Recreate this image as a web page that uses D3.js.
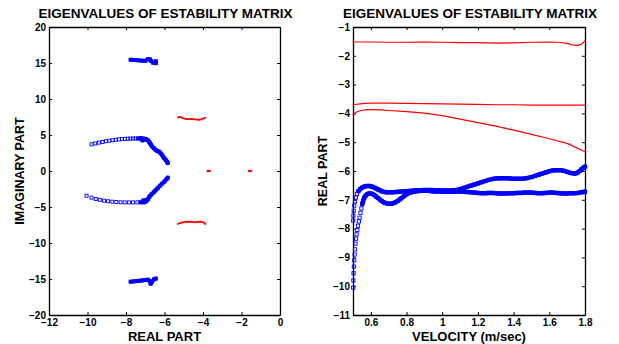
<!DOCTYPE html>
<html><head><meta charset="utf-8">
<script src="https://cdn.jsdelivr.net/npm/d3@7"></script>
<style>body{margin:0;background:#fff}svg{display:block}</style>
</head><body>
<svg id="c" width="619" height="344"></svg>
<script>
const chartTitle = "EIGENVALUES OF ESTABILITY MATRIX";
const leftXLabel = "REAL PART", leftYLabel = "IMAGINARY PART";
const rightXLabel = "VELOCITY (m/sec)", rightYLabel = "REAL PART";
const leftXTicks = [-12,-10,-8,-6,-4,-2,0];
const leftYTicks = [-20,-15,-10,-5,0,5,10,15,20];
const rightXTicks = [0.6,0.8,1,1.2,1.4,1.6,1.8];
const rightYTicks = [-11,-10,-9,-8,-7,-6,-5,-4,-3,-2,-1];

// ---- left plot: eigenvalues in the complex plane [real, imag] ----
const arcUpperSparse = [[-9.79,3.71],[-9.6,3.83],[-9.41,3.94],[-9.22,4.04],[-9.04,4.13],[-8.87,4.21],[-8.7,4.28],[-8.53,4.34],[-8.37,4.39],[-8.21,4.43],[-8.06,4.46],[-7.91,4.48],[-7.77,4.5],[-7.63,4.51],[-7.5,4.52],[-7.38,4.52]];
const arcUpperDense = [[-7.3,4.52],[-7.2,4.55],[-7.1,4.5],[-7.0,4.45],[-7.15,4.25],[-6.95,4.4],[-6.85,4.25],[-6.8,4.05],[-6.75,3.85],[-6.7,3.65],[-6.64,3.4],[-6.56,3.18],[-6.47,2.95],[-6.38,2.8],[-6.3,2.7],[-6.22,2.55],[-6.15,2.3],[-6.08,2.0],[-6.0,1.75],[-5.93,1.5],[-5.87,1.28],[-5.83,1.1]];
const arcLowerSparse = [[-10.05,-3.43],[-9.79,-3.7],[-9.57,-3.89],[-9.36,-4.0],[-9.14,-4.12],[-8.93,-4.2],[-8.71,-4.26],[-8.5,-4.3],[-8.28,-4.35],[-8.07,-4.36],[-7.85,-4.36],[-7.64,-4.36],[-7.41,-4.35]];
const arcLowerDense = [[-7.24,-4.35],[-7.05,-4.35],[-6.95,-4.2],[-7.1,-4.1],[-6.9,-4.0],[-6.85,-3.9],[-6.78,-3.55],[-6.68,-3.25],[-6.56,-2.95],[-6.47,-2.7],[-6.36,-2.4],[-6.24,-2.05],[-6.12,-1.75],[-6.0,-1.45],[-5.9,-1.15],[-5.83,-0.93]];
const highUpper = [[-7.76,15.45],[-7.6,15.42],[-7.4,15.38],[-7.2,15.33],[-7.0,15.3],[-6.85,15.55],[-6.75,15.5],[-6.7,15.3],[-6.6,15.05],[-6.45,14.98],[-6.45,15.25]];
const highLower = [[-7.76,-15.37],[-7.6,-15.33],[-7.4,-15.28],[-7.2,-15.22],[-7.0,-15.15],[-6.85,-15.1],[-6.75,-15.35],[-6.72,-15.65],[-6.65,-15.4],[-6.55,-15.05],[-6.45,-14.95]];
const redUpper = [[-5.31,7.46],[-5.17,7.5],[-5.05,7.35],[-4.91,7.22],[-4.75,7.2],[-4.57,7.22],[-4.4,7.18],[-4.22,7.1],[-4.1,7.18],[-3.97,7.3],[-3.88,7.4]];
const redLower = [[-5.31,-7.36],[-5.2,-7.25],[-5.08,-7.13],[-4.9,-7.06],[-4.74,-7.04],[-4.57,-7.08],[-4.4,-7.13],[-4.26,-7.06],[-4.14,-7.02],[-3.97,-7.13],[-3.88,-7.36]];
const redReal1 = [[-3.81,0],[-3.6,0]];
const redReal2 = [[-1.66,0],[-1.46,0]];

// ---- right plot: real part vs velocity [v, real] ----
const redTop = [[0.5,-1.52],[0.6,-1.52],[0.7,-1.53],[0.8,-1.53],[0.9,-1.52],[1.0,-1.53],[1.1,-1.54],[1.2,-1.54],[1.3,-1.56],[1.4,-1.55],[1.5,-1.53],[1.6,-1.52],[1.65,-1.53],[1.7,-1.57],[1.73,-1.62],[1.76,-1.64],[1.78,-1.6],[1.8,-1.48]];
const redMid = [[0.5,-3.7],[0.55,-3.66],[0.6,-3.64],[0.7,-3.64],[0.8,-3.65],[0.9,-3.66],[1.0,-3.67],[1.1,-3.68],[1.2,-3.69],[1.3,-3.7],[1.4,-3.7],[1.5,-3.71],[1.6,-3.71],[1.7,-3.71],[1.8,-3.71]];
const redLow = [[0.5,-4.05],[0.52,-3.95],[0.55,-3.89],[0.58,-3.87],[0.6,-3.87],[0.65,-3.88],[0.7,-3.9],[0.8,-3.94],[0.9,-3.99],[1.0,-4.08],[1.1,-4.2],[1.2,-4.32],[1.3,-4.44],[1.4,-4.58],[1.5,-4.73],[1.6,-4.88],[1.7,-5.04],[1.8,-5.33]];
const blueASparse = [[0.501,-7.72],[0.502,-7.55],[0.504,-7.38],[0.507,-7.2],[0.511,-7.05],[0.516,-6.92],[0.522,-6.8]];
const blueA = [[0.53,-6.7],[0.54,-6.63],[0.55,-6.58],[0.56,-6.55],[0.57,-6.53],[0.58,-6.52],[0.59,-6.52],[0.6,-6.53],[0.61,-6.55],[0.62,-6.58],[0.63,-6.61],[0.64,-6.64],[0.65,-6.67],[0.66,-6.7],[0.67,-6.72],[0.68,-6.73],[0.69,-6.74],[0.7,-6.74],[0.72,-6.74],[0.74,-6.73],[0.76,-6.72],[0.78,-6.71],[0.8,-6.7],[0.82,-6.69],[0.84,-6.68],[0.86,-6.67],[0.88,-6.67],[0.9,-6.66],[0.92,-6.66],[0.94,-6.66],[0.96,-6.67],[0.98,-6.67],[1.0,-6.68],[1.02,-6.68],[1.04,-6.68],[1.06,-6.67],[1.08,-6.66],[1.1,-6.63],[1.12,-6.59],[1.14,-6.55],[1.16,-6.51],[1.18,-6.47],[1.2,-6.43],[1.22,-6.39],[1.24,-6.35],[1.26,-6.31],[1.28,-6.28],[1.3,-6.26],[1.32,-6.25],[1.34,-6.25],[1.36,-6.25],[1.38,-6.26],[1.4,-6.27],[1.42,-6.27],[1.44,-6.27],[1.46,-6.26],[1.48,-6.24],[1.5,-6.21],[1.52,-6.17],[1.54,-6.13],[1.56,-6.09],[1.58,-6.05],[1.6,-6.01],[1.62,-5.98],[1.64,-5.97],[1.66,-5.97],[1.68,-5.99],[1.7,-6.03],[1.72,-6.07],[1.74,-6.09],[1.75,-6.08],[1.76,-6.05],[1.77,-6.0],[1.78,-5.94],[1.79,-5.89],[1.8,-5.85]];
const blueBSparse = [[0.501,-10.05],[0.502,-9.8],[0.503,-9.55],[0.505,-9.32],[0.507,-9.1],[0.509,-8.9],[0.511,-8.72],[0.514,-8.52],[0.517,-8.35],[0.52,-8.2],[0.524,-8.05],[0.528,-7.9],[0.533,-7.75],[0.537,-7.62],[0.542,-7.45],[0.547,-7.3]];
const blueB = [[0.552,-7.15],[0.557,-7.03],[0.563,-6.93],[0.57,-6.86],[0.58,-6.8],[0.59,-6.78],[0.6,-6.78],[0.61,-6.8],[0.62,-6.84],[0.63,-6.89],[0.64,-6.94],[0.65,-6.99],[0.66,-7.04],[0.67,-7.08],[0.68,-7.11],[0.69,-7.13],[0.7,-7.14],[0.71,-7.14],[0.72,-7.13],[0.73,-7.11],[0.74,-7.08],[0.75,-7.04],[0.76,-7.0],[0.77,-6.95],[0.78,-6.9],[0.79,-6.85],[0.8,-6.81],[0.82,-6.75],[0.84,-6.72],[0.86,-6.7],[0.88,-6.69],[0.9,-6.69],[0.92,-6.69],[0.94,-6.7],[0.96,-6.71],[0.98,-6.71],[1.0,-6.72],[1.02,-6.72],[1.04,-6.72],[1.06,-6.72],[1.08,-6.71],[1.1,-6.71],[1.12,-6.72],[1.14,-6.73],[1.16,-6.74],[1.18,-6.75],[1.2,-6.76],[1.22,-6.77],[1.24,-6.77],[1.26,-6.76],[1.28,-6.76],[1.3,-6.77],[1.32,-6.78],[1.34,-6.78],[1.36,-6.78],[1.38,-6.77],[1.4,-6.77],[1.42,-6.76],[1.44,-6.76],[1.46,-6.75],[1.48,-6.75],[1.5,-6.75],[1.52,-6.76],[1.54,-6.77],[1.56,-6.77],[1.58,-6.76],[1.6,-6.75],[1.62,-6.75],[1.64,-6.76],[1.66,-6.77],[1.68,-6.78],[1.7,-6.78],[1.72,-6.77],[1.74,-6.77],[1.76,-6.76],[1.78,-6.74],[1.8,-6.72]];

const BLUE = "#0000ff", RED = "#ff0000";
const FONT = "'Liberation Sans', Arial, Helvetica, sans-serif";
const svg = d3.select("#c");
const plotTop = 27, plotBottom = 315;

function frame(x0, x1, xDom, yDom, xt, yt, fmtX, fmtY) {
  const xs = d3.scaleLinear().domain(xDom).range([x0, x1]);
  const ys = d3.scaleLinear().domain(yDom).range([plotBottom, plotTop]);
  const g = svg.append("g");
  const styleAxis = sel => {
    sel.selectAll("path.domain").attr("stroke", "#000").attr("stroke-width", 1.3);
    sel.selectAll(".tick line").attr("stroke", "#000").attr("stroke-width", 1);
    sel.selectAll("text").attr("font-family", FONT).attr("font-weight", "bold").attr("font-size", "10px").attr("fill", "#000");
  };
  g.append("g").attr("transform", `translate(0,${plotBottom})`)
    .call(d3.axisBottom(xs).tickValues(xt).tickFormat(fmtX).tickSizeInner(-3).tickSizeOuter(0).tickPadding(4)).call(styleAxis);
  g.append("g").attr("transform", `translate(0,${plotTop})`)
    .call(d3.axisTop(xs).tickValues(xt).tickFormat("").tickSizeInner(-3).tickSizeOuter(0)).call(styleAxis);
  g.append("g").attr("transform", `translate(${x0},0)`)
    .call(d3.axisLeft(ys).tickValues(yt).tickFormat(fmtY).tickSizeInner(-3).tickSizeOuter(0).tickPadding(3)).call(styleAxis);
  g.append("g").attr("transform", `translate(${x1},0)`)
    .call(d3.axisRight(ys).tickValues(yt).tickFormat("").tickSizeInner(-3).tickSizeOuter(0)).call(styleAxis);
  return {xs, ys, g};
}

function drawLine(p, data, color, w) {
  const line = d3.line().x(d => p.xs(d[0])).y(d => p.ys(d[1]));
  p.g.append("path").datum(data).attr("d", line).attr("fill", "none")
    .attr("stroke", color).attr("stroke-width", w).attr("stroke-linejoin", "round").attr("stroke-linecap", "round");
}
function drawSquares(p, data, color, s) {
  p.g.append("g").selectAll("rect").data(data).join("rect")
    .attr("x", d => p.xs(d[0]) - s/2).attr("y", d => p.ys(d[1]) - s/2)
    .attr("width", s).attr("height", s).attr("fill", "none")
    .attr("stroke", color).attr("stroke-width", 0.9);
}
function labels(x0, x1, title, xl, yl, ylx) {
  const cx = (x0 + x1) / 2;
  svg.append("text").attr("x", cx + 1).attr("y", 18).attr("text-anchor", "middle")
    .attr("font-family", FONT).attr("font-weight", "bold").attr("font-size", "13.5px").text(title);
  svg.append("text").attr("x", cx).attr("y", 341).attr("text-anchor", "middle")
    .attr("font-family", FONT).attr("font-weight", "bold").attr("font-size", "13px").text(xl);
  svg.append("text").attr("transform", `translate(${ylx},${(plotTop + plotBottom) / 2}) rotate(-90)`)
    .attr("text-anchor", "middle").attr("dy", "0.36em")
    .attr("font-family", FONT).attr("font-weight", "bold").attr("font-size", "12.5px").text(yl);
}

// Left plot
const L = frame(49, 280, [-12, 0], [-20, 20], leftXTicks, leftYTicks, d3.format("d"), d3.format("d"));
[arcUpperDense, arcLowerDense, highUpper, highLower].forEach(d => drawLine(L, d, BLUE, 4));
[arcUpperDense, arcLowerDense, highUpper, highLower, arcUpperSparse, arcLowerSparse].forEach(d => drawSquares(L, d, BLUE, 3));
[redUpper, redLower].forEach(d => drawLine(L, d, RED, 1.8));
[redReal1, redReal2].forEach(d => {
  L.g.append("path").datum(d).attr("d", d3.line().x(p => L.xs(p[0])).y(p => L.ys(p[1])))
    .attr("stroke", RED).attr("stroke-width", 2.2).attr("fill", "none");
});
labels(49, 280, chartTitle, leftXLabel, leftYLabel, 19);

// Right plot
const R = frame(353, 585, [0.5, 1.8], [-11, -1], rightXTicks, rightYTicks, d3.format("~g"), d3.format("d"));
[redTop, redMid, redLow].forEach(d => drawLine(R, d, RED, 1.2));
[blueA, blueB].forEach(d => drawLine(R, d, BLUE, 4.5));
[blueA, blueB, blueASparse, blueBSparse].forEach(d => drawSquares(R, d, BLUE, 3.2));
labels(353, 585, chartTitle, rightXLabel, rightYLabel, 322);
</script>
</body></html>
